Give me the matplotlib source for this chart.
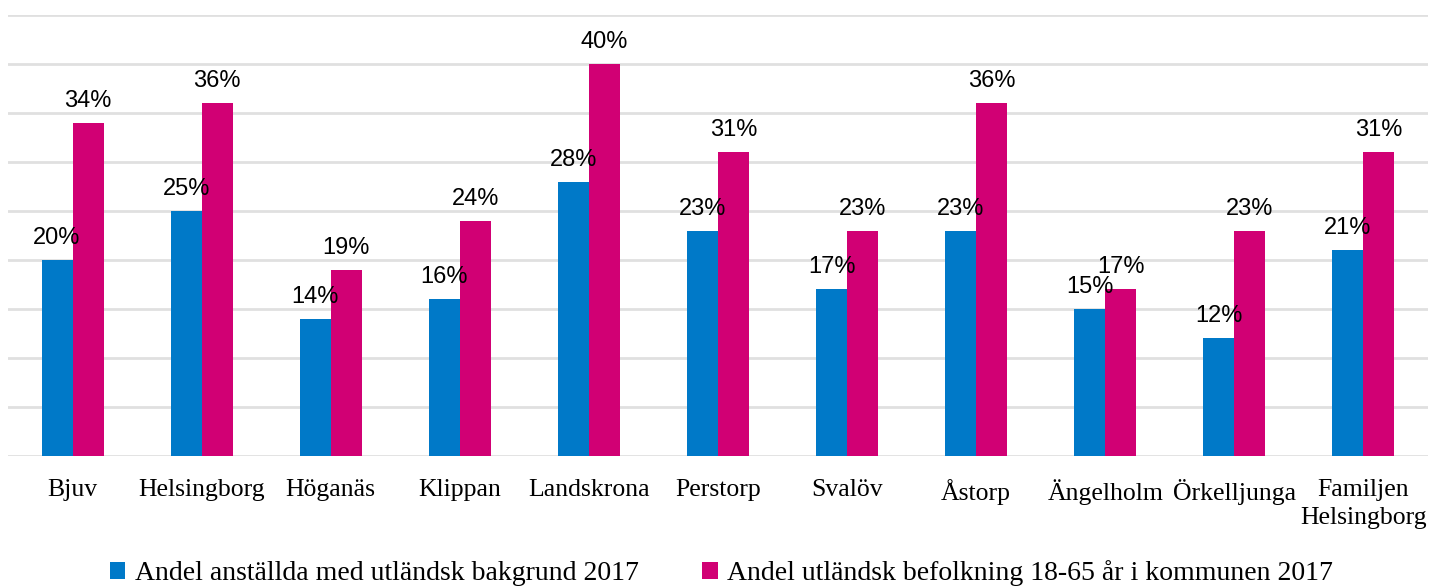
import matplotlib
matplotlib.use("Agg")
import matplotlib.pyplot as plt
import numpy as np

categories = ["Bjuv", "Helsingborg", "Höganäs", "Klippan", "Landskrona", "Perstorp",
              "Svalöv", "Åstorp", "Ängelholm", "Örkelljunga", "Familjen\nHelsingborg"]
anstallda = [20, 25, 14, 16, 28, 23, 17, 23, 15, 12, 21]
befolkning = [34, 36, 19, 24, 40, 31, 23, 36, 17, 23, 31]
series_names = ["Andel anställda med utländsk bakgrund 2017",
                "Andel utländsk befolkning 18-65 år i kommunen 2017"]
colors = ["#0079C8", "#D10074"]

fig = plt.figure(figsize=(14.43, 5.86), dpi=100)
ax = fig.add_axes([8/1443, 130/586, 1420/1443, 441/586])

x = np.arange(len(categories))
w = 0.24
b1 = ax.bar(x - w/2, anstallda, w, color=colors[0], label=series_names[0], zorder=3)
b2 = ax.bar(x + w/2, befolkning, w, color=colors[1], label=series_names[1], zorder=3)

for bars, vals in ((b1, anstallda), (b2, befolkning)):
    for r, v in zip(bars, vals):
        ax.annotate(f"{v}%", (r.get_x() + r.get_width()/2, v), xytext=(0, 11.5),
                    textcoords="offset points", ha="center", va="baseline",
                    fontsize=17, family="Liberation Sans", color="black", zorder=4)

ax.set_xlim(-0.5, len(categories) - 0.5)
ax.set_ylim(0, 45)
ax.set_yticks(np.arange(0, 46, 5))
ax.yaxis.grid(True, color="#e0e0e0", linewidth=2, zorder=0)
ax.tick_params(axis="y", left=False, labelleft=False)
ax.tick_params(axis="x", bottom=False, pad=13)
ax.set_xticks(x)
ax.set_xticklabels(categories, family="Liberation Serif", fontsize=18.5, linespacing=1.35)
for s in ax.spines.values():
    s.set_visible(False)

fig.legend(loc="lower center", bbox_to_anchor=(0.5, -0.043), ncol=2, frameon=False,
           prop={"family": "Liberation Serif", "size": 20},
           handlelength=0.55, handleheight=0.55, handletextpad=0.35, columnspacing=2.3)

fig.savefig("out.png", dpi=100)
